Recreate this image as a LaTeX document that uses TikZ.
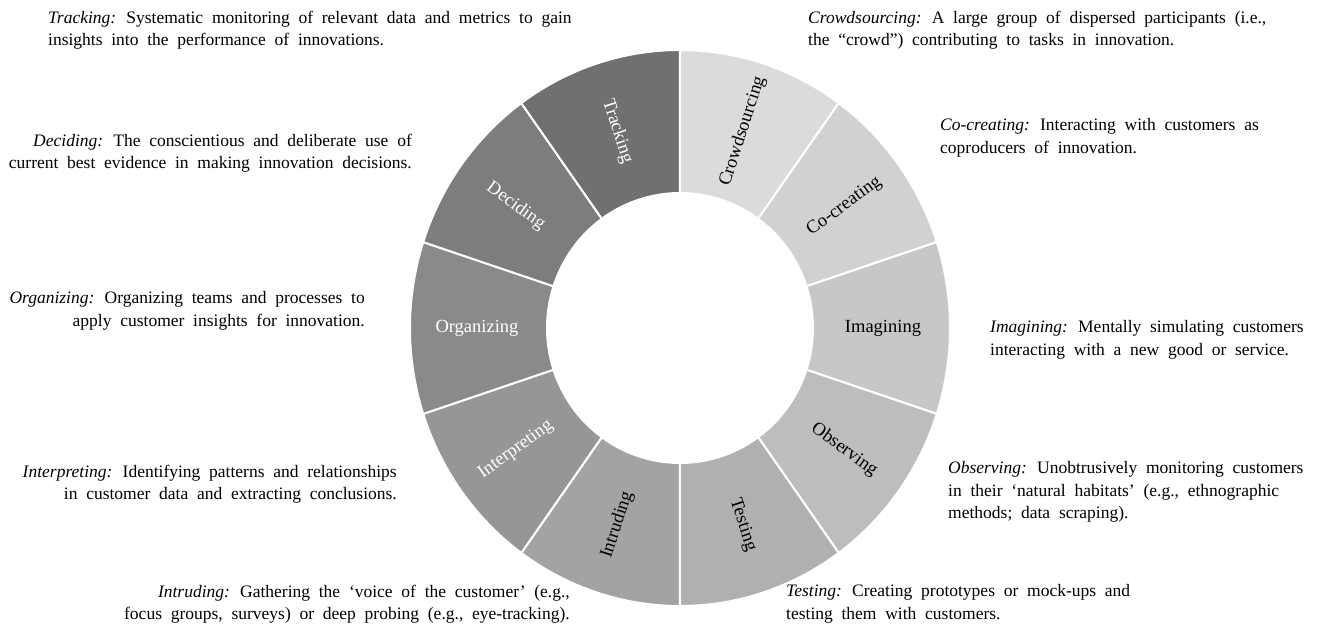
\documentclass[tikz,border=0pt]{standalone}
\usepackage{fontspec}
\setmainfont{Liberation Serif}

\begin{document}
\begin{tikzpicture}[x=1pt, y=1pt,
    every node/.style={inner sep=0pt},
    seglabel/.style={font=\fontsize{18.5}{22}\selectfont},
    desc/.style={font={\fontsize{17.5}{22.5}\selectfont\spaceskip=0.5em\relax}},
    descl/.style={desc, align=left, anchor=north west},
    descr/.style={desc, align=right, anchor=north east}]
    \useasboundingbox (-680,-313) rectangle (640,328);

    % ring, clockwise from the top
    \foreach \a/\shade/\name/\lbl/\rot/\tc [evaluate=\a as \b using \a-36,
        evaluate=\a as \m using \a-18] in {
        90/14/crowdsourcing/Crowdsourcing/72/black,
        54/18/cocreating/Co-creating/36/black,
        18/22/imagining/Imagining/0/black,
        -18/26/observing/Observing/-36/black,
        -54/31/testing/Testing/-72/black,
        -90/36/intruding/Intruding/72/black,
        -126/41/interpreting/Interpreting/36/white,
        -162/46/organizing/Organizing/0/white,
        162/51/deciding/Deciding/-36/white,
        126/56/tracking/Tracking/-72/white} {
      \fill[black!\shade, draw=white, line width=2pt]
        (\a:270 and 278) arc[start angle=\a, end angle=\b, x radius=270, y radius=278]
        -- (\b:133 and 135) arc[start angle=\b, end angle=\a, x radius=133, y radius=135]
        -- cycle;
      \node[seglabel, text=\tc, rotate=\rot] (\name) at (\m:203 and 207) {\lbl};
    }

    % left column
    \node[descl] (trackingtext) at (-632,317.5)
      {\textit{Tracking:} Systematic monitoring of relevant data and metrics to gain\\
       insights into the performance of innovations.};
    \node[descr] (decidingtext) at (-268,194.5)
      {\textit{Deciding:} The conscientious and deliberate use of\\
       current best evidence in making innovation decisions.};
    \node[descr] (organizingtext) at (-315,36.5)
      {\textit{Organizing:} Organizing teams and processes to\\
       apply customer insights for innovation.};
    \node[descr] (interpretingtext) at (-283,-136.5)
      {\textit{Interpreting:} Identifying patterns and relationships\\
       in customer data and extracting conclusions.};
    \node[descr] (intrudingtext) at (-110,-256.5)
      {\textit{Intruding:} Gathering the ‘voice of the customer’ (e.g.,\\
       focus groups, surveys) or deep probing (e.g., eye-tracking).};

    % right column
    \node[descl] (crowdsourcingtext) at (128,317.5)
      {\textit{Crowdsourcing:} A large group of dispersed participants (i.e.,\\
       the “crowd”) contributing to tasks in innovation.};
    \node[descl] (cocreatingtext) at (260,209.5)
      {\textit{Co-creating:} Interacting with customers as\\
       coproducers of innovation.};
    \node[descl] (imaginingtext) at (310,7.5)
      {\textit{Imagining:} Mentally simulating customers\\
       interacting with a new good or service.};
    \node[descl] (observingtext) at (268,-133.5)
      {\textit{Observing:} Unobtrusively monitoring customers\\
       in their ‘natural habitats’ (e.g., ethnographic\\
       methods; data scraping).};
    \node[descl] (testingtext) at (106,-256.5)
      {\textit{Testing:} Creating prototypes or mock-ups and\\
       testing them with customers.};
\end{tikzpicture}
\end{document}
